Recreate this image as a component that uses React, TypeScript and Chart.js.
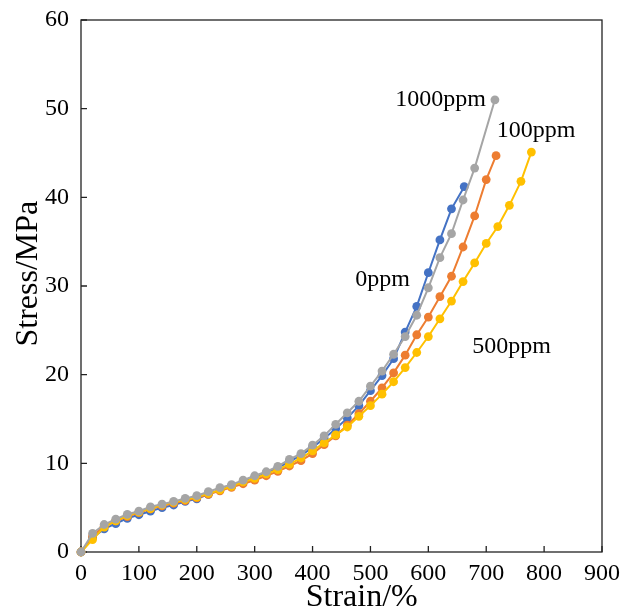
import React, { useEffect, useRef } from "react";
import { Chart, registerables } from "chart.js";
Chart.register(...registerables);

// 0ppm (blue)
const strain0ppm = [0, 20, 40, 60, 80, 100, 120, 140, 160, 180, 200, 220, 240, 260, 280, 300, 320, 340, 360, 380, 400, 420, 440, 460, 480, 500, 520, 540, 560, 580, 600, 620, 640, 662];
const stress0ppm = [0, 1.6, 2.6, 3.2, 3.8, 4.2, 4.6, 5.0, 5.3, 5.7, 6.0, 6.5, 7.0, 7.4, 7.9, 8.4, 8.9, 9.5, 10.2, 10.9, 11.8, 12.8, 13.9, 15.1, 16.5, 18.2, 19.9, 21.8, 24.8, 27.7, 31.5, 35.2, 38.7, 41.2];

// 100ppm (orange)
const strain100ppm = [0, 20, 40, 60, 80, 100, 120, 140, 160, 180, 200, 220, 240, 260, 280, 300, 320, 340, 360, 380, 400, 420, 440, 460, 480, 500, 520, 540, 560, 580, 600, 620, 640, 660, 680, 700, 717];
const stress100ppm = [0, 1.8, 2.9, 3.5, 4.0, 4.45, 4.85, 5.2, 5.5, 5.8, 6.1, 6.5, 6.9, 7.3, 7.7, 8.1, 8.6, 9.1, 9.7, 10.3, 11.1, 12.1, 13.1, 14.3, 15.6, 17.0, 18.5, 20.2, 22.2, 24.5, 26.5, 28.8, 31.1, 34.4, 37.9, 42.0, 44.7];

// 500ppm (yellow)
const strain500ppm = [0, 20, 40, 60, 80, 100, 120, 140, 160, 180, 200, 220, 240, 260, 280, 300, 320, 340, 360, 380, 400, 420, 440, 460, 480, 500, 520, 540, 560, 580, 600, 620, 640, 660, 680, 700, 720, 740, 760, 778];
const stress500ppm = [0, 1.4, 2.8, 3.5, 4.1, 4.5, 4.9, 5.3, 5.6, 5.9, 6.2, 6.6, 7.0, 7.4, 7.9, 8.3, 8.8, 9.3, 9.9, 10.6, 11.4, 12.3, 13.2, 14.1, 15.3, 16.5, 17.8, 19.2, 20.8, 22.5, 24.3, 26.3, 28.3, 30.5, 32.6, 34.8, 36.7, 39.1, 41.8, 45.1];

// 1000ppm (gray)
const strain1000ppm = [0, 20, 40, 60, 80, 100, 120, 140, 160, 180, 200, 220, 240, 260, 280, 300, 320, 340, 360, 380, 400, 420, 440, 460, 480, 500, 520, 540, 560, 580, 600, 620, 640, 660, 680, 715];
const stress1000ppm = [0, 2.1, 3.1, 3.7, 4.25, 4.6, 5.1, 5.4, 5.7, 6.05, 6.35, 6.8, 7.25, 7.6, 8.1, 8.6, 9.05, 9.65, 10.45, 11.1, 12.05, 13.1, 14.4, 15.7, 17.0, 18.7, 20.4, 22.3, 24.3, 26.7, 29.8, 33.2, 35.9, 39.7, 43.3, 51.0];

const seriesNames = ["0ppm", "100ppm", "500ppm", "1000ppm"];
const seriesColors = ["#4472C4", "#ED7D31", "#FFC000", "#A5A5A5"];
// label anchors in data units (strain, stress)
const labelStrain = [521, 786, 744, 621];
const labelStress = [30.7, 47.5, 23.1, 51.0];

const xTickValues = [0, 100, 200, 300, 400, 500, 600, 700, 800, 900];
const yTickValues = [0, 10, 20, 30, 40, 50, 60];
const xTitle = "Strain/%";
const yTitle = "Stress/MPa";
// title anchors in data units
const xTitleStrain = 485;
const yTitleStress = 31.4;

const FONT = '"Liberation Serif", "Times New Roman", serif';

function toPoints(xs: number[], ys: number[]) {
  return xs.map((x, i) => ({ x, y: ys[i] }));
}

const framePlugin = {
  id: "frame",
  beforeDatasetsDraw(chart: any) {
    const { ctx, chartArea: a, scales } = chart;
    const x = scales.x;
    const y = scales.y;
    ctx.save();
    ctx.strokeStyle = "#222";
    ctx.lineWidth = 1.3;
    ctx.strokeRect(a.left, a.top, a.right - a.left, a.bottom - a.top);
    ctx.beginPath();
    xTickValues.forEach((v) => {
      const px = x.getPixelForValue(v);
      ctx.moveTo(px, a.bottom);
      ctx.lineTo(px, a.bottom - 6);
    });
    yTickValues.forEach((v) => {
      const py = y.getPixelForValue(v);
      ctx.moveTo(a.left, py);
      ctx.lineTo(a.left + 6, py);
    });
    ctx.stroke();
    ctx.restore();
  },
  afterDraw(chart: any) {
    const { ctx, scales } = chart;
    const x = scales.x;
    const y = scales.y;
    ctx.save();
    ctx.fillStyle = "#000";
    ctx.font = `24px ${FONT}`;
    ctx.textAlign = "center";
    ctx.textBaseline = "middle";
    seriesNames.forEach((n, i) => {
      ctx.fillText(n, x.getPixelForValue(labelStrain[i]), y.getPixelForValue(labelStress[i]));
    });
    // axis titles
    ctx.font = `32px ${FONT}`;
    ctx.textBaseline = "middle";
    ctx.fillText(xTitle, x.getPixelForValue(xTitleStrain), 598);
    ctx.translate(29, y.getPixelForValue(yTitleStress));
    ctx.rotate(-Math.PI / 2);
    ctx.fillText(yTitle, 0, 0);
    ctx.restore();
  },
};

export default function App() {
  const ref = useRef<HTMLCanvasElement | null>(null);
  useEffect(() => {
    if (!ref.current) return;
    const xs = [strain0ppm, strain100ppm, strain500ppm, strain1000ppm];
    const ys = [stress0ppm, stress100ppm, stress500ppm, stress1000ppm];
    const orders = [3, 2, 1, 0];
    const chart = new Chart(ref.current, {
      type: "line",
      data: {
        datasets: seriesNames.map((n, i) => ({
          label: n,
          data: toPoints(xs[i], ys[i]),
          borderColor: seriesColors[i],
          backgroundColor: seriesColors[i],
          pointBackgroundColor: seriesColors[i],
          pointBorderColor: seriesColors[i],
          pointRadius: 4.4,
          pointBorderWidth: 0,
          borderWidth: 2,
          tension: 0,
          fill: false,
          clip: false as any,
          order: orders[i],
        })),
      },
      options: {
        animation: false,
        responsive: false,
        devicePixelRatio: 1,
        layout: { padding: { top: 20, right: 22, left: 0, bottom: 0 } },
        plugins: { legend: { display: false }, tooltip: { enabled: false } },
        scales: {
          x: {
            type: "linear",
            min: 0,
            max: 900,
            afterBuildTicks: (s: any) => {
              s.ticks = xTickValues.map((v) => ({ value: v }));
            },
            ticks: { color: "#000", font: { family: FONT, size: 24 }, padding: -1, maxRotation: 0 },
            grid: { display: false },
            border: { display: false },
            title: { display: false },
            afterFit: (s: any) => {
              s.height = 59;
              s.paddingLeft = 0;
              s.paddingRight = 0;
            },
          },
          y: {
            type: "linear",
            min: 0,
            max: 60,
            afterBuildTicks: (s: any) => {
              s.ticks = yTickValues.map((v) => ({ value: v }));
            },
            ticks: { color: "#000", font: { family: FONT, size: 24 }, padding: 4 },
            grid: { display: false },
            border: { display: false },
            title: { display: false },
            afterFit: (s: any) => {
              s.width = 81;
              s.paddingTop = 0;
              s.paddingBottom = 0;
            },
          },
        },
      },
      plugins: [framePlugin],
    });
    return () => chart.destroy();
  }, []);
  return (
    <div style={{ position: "absolute", left: 0, top: 0, width: 624, height: 611 }}>
      <canvas ref={ref} width={624} height={611} style={{ width: 624, height: 611 }} />
    </div>
  );
}
